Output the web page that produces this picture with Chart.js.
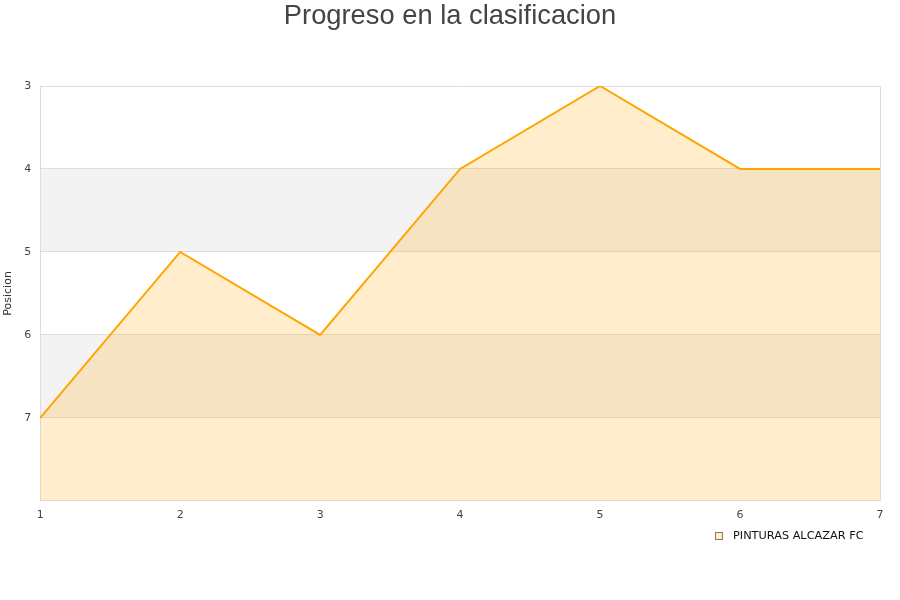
<!DOCTYPE html>
<html lang="es">
<head>
    <meta charset="UTF-8">
    <title>Progreso en la clasificacion</title>
    <script src="https://cdn.jsdelivr.net/npm/chart.js"></script>
    <style>
        body, html {
            margin: 0;
            padding: 0;
            background: #ffffff;
        }
        #wrap {
            width: 900px;
            height: 600px;
        }
    </style>
</head>
<body>
    <div id="wrap"><canvas id="chart"></canvas></div>
    <script>
        const titulo = 'Progreso en la clasificacion';
        const jornadas = ['1', '2', '3', '4', '5', '6', '7'];
        const posiciones = [7, 5, 6, 4, 3, 4, 4];
        const equipo = 'PINTURAS ALCAZAR FC';
        const posMin = 3;
        const posMax = 8;
        const bandas = [[4, 5], [6, 7]]; // franjas grises

        // franjas alternas de fondo
        const bandPlugin = {
            id: 'bands',
            beforeDraw(chart) {
                const { ctx, chartArea, scales } = chart;
                ctx.save();
                ctx.fillStyle = '#f3f3f3';
                bandas.forEach(b => {
                    const y1 = scales.y.getPixelForValue(b[0]);
                    const y2 = scales.y.getPixelForValue(b[1]);
                    ctx.fillRect(chartArea.left, y1, chartArea.right - chartArea.left, y2 - y1);
                });
                ctx.restore();
            }
        };

        // titulo centrado en el lienzo y leyenda abajo a la derecha
        const textPlugin = {
            id: 'texts',
            afterDraw(chart) {
                const ctx = chart.ctx;
                const ds = chart.data.datasets[0];
                ctx.save();
                ctx.fillStyle = '#444444';
                ctx.font = '27.3px "Liberation Sans"';
                ctx.textAlign = 'center';
                ctx.textBaseline = 'middle';
                ctx.fillText(titulo, chart.width / 2, 16.4);

                ctx.textAlign = 'left';
                ctx.fillStyle = ds.backgroundColor;
                ctx.fillRect(715.5, 532.5, 7, 7);
                ctx.strokeStyle = '#8a7a60';
                ctx.lineWidth = 1;
                ctx.strokeRect(715.5, 532.5, 7, 7);
                ctx.fillStyle = '#111111';
                ctx.font = '11.3px "DejaVu Sans"';
                ctx.fillText(ds.label, 733, 536.5);
                ctx.restore();
            }
        };

        new Chart(document.getElementById('chart'), {
            type: 'line',
            data: {
                labels: jornadas,
                datasets: [{
                    label: equipo,
                    data: posiciones,
                    borderColor: '#ffa500',
                    backgroundColor: 'rgba(255, 165, 0, 0.2)',
                    borderWidth: 2,
                    pointRadius: 0,
                    tension: 0,
                    fill: { value: posMax }
                }]
            },
            options: {
                responsive: true,
                maintainAspectRatio: false,
                animation: false,
                layout: { padding: { left: 0, right: 20, top: 86, bottom: 70 } },
                plugins: {
                    title: { display: false },
                    legend: { display: false },
                    tooltip: { enabled: false }
                },
                scales: {
                    x: {
                        offset: false,
                        grid: {
                            drawTicks: false,
                            color: ctx => (ctx.index === 0 || ctx.index === jornadas.length - 1) ? '#dddddd' : 'rgba(0,0,0,0)'
                        },
                        border: { display: true, color: '#dddddd' },
                        ticks: {
                            color: '#444444',
                            padding: 8,
                            maxRotation: 0,
                            font: { family: 'DejaVu Sans', size: 11 }
                        }
                    },
                    y: {
                        reverse: true,
                        min: posMin,
                        max: posMax,
                        grid: { color: '#dddddd', drawTicks: false },
                        border: { display: true, color: '#dddddd' },
                        ticks: {
                            stepSize: 1,
                            color: '#444444',
                            padding: 9,
                            font: { family: 'DejaVu Sans', size: 11 },
                            callback: v => v === posMax ? '' : v
                        },
                        title: {
                            display: true,
                            text: 'Posicion',
                            color: '#333333',
                            padding: { top: 2, bottom: 0 },
                            font: { family: 'DejaVu Sans', size: 11 }
                        }
                    }
                }
            },
            plugins: [bandPlugin, textPlugin]
        });
    </script>
</body>
</html>
